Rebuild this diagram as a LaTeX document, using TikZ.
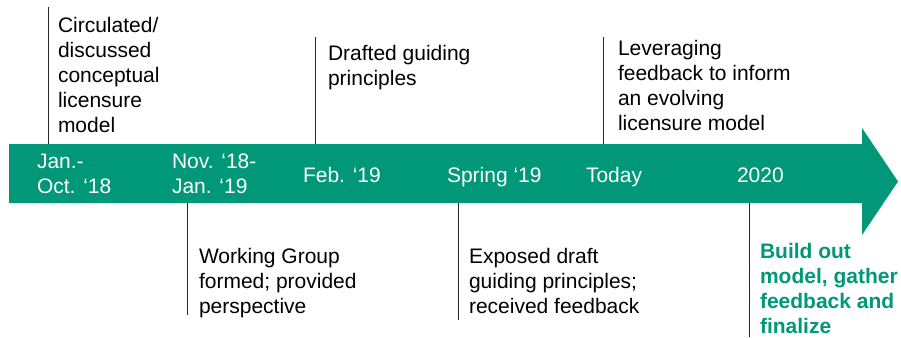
\documentclass[tikz,border=0pt]{standalone}
\usepackage{fontspec}
\setmainfont{Liberation Sans}
\usetikzlibrary{positioning}
\definecolor{bandgreen}{RGB}{0,152,121}

\begin{document}
\begin{tikzpicture}[
	x=1pt, y=-1pt,
	every node/.style={inner sep=0pt, outer sep=0pt, align=left,
		font=\fontsize{21}{25}\selectfont},
	% base = baseline of the last line
	event/.style={anchor=base west, text=black},
	date/.style={anchor=base west, text=white},
	goal/.style={anchor=base west, text=bandgreen,
		font=\fontsize{21}{25}\selectfont\bfseries},
	tick/.style={black!85, line width=0.9pt}
	]

	\useasboundingbox (0,0) rectangle (901,337);

	% band with arrow head
	\fill[bandgreen] (9,144) -- (862,144) -- (862,128) -- (898,181.5)
		-- (862,235) -- (862,203) -- (9,203) -- cycle;

	% dates on the band
	\node[date] (d1) at (37,193) {Jan.-\\Oct. `18};
	\node[date] (d2) at (172,193) {Nov. `18-\\Jan. `19};
	\node[date] (d3) at (303,182) {Feb. `19};
	\node[date] (d4) at (447,182) {Spring `19};
	\node[date] (d5) at (586,182) {Today};
	\node[date] (d6) at (737,182) {2020};

	% events above
	\node[event] (circ) at (58,132) {Circulated/\\discussed\\conceptual\\licensure\\model};
	\node[event] (draft) at (328,85) {Drafted guiding\\principles};
	\node[event] (lev) at (618,130) {Leveraging\\feedback to inform\\an evolving\\licensure model};

	% events below
	\node[event] (work) at (199,313) {Working Group\\formed; provided\\perspective};
	\node[event] (expo) at (469,313) {Exposed draft\\guiding principles;\\received feedback};
	\node[goal] (build) at (760,333) {Build out\\model, gather\\feedback and\\finalize};

	% tick ends
	\coordinate (t1) at (48,7);    \coordinate (b1) at (48,144);
	\coordinate (t2) at (315,37);  \coordinate (b2) at (315,144);
	\coordinate (t3) at (603,37);  \coordinate (b3) at (603,144);
	\coordinate (t4) at (187,315); \coordinate (b4) at (187,203);
	\coordinate (t5) at (458,320); \coordinate (b5) at (458,203);
	\coordinate (t6) at (749,337); \coordinate (b6) at (749,203);

	\foreach \i in {1,...,6}
		\draw[tick] (b\i) -- (t\i);

\end{tikzpicture}
\end{document}
